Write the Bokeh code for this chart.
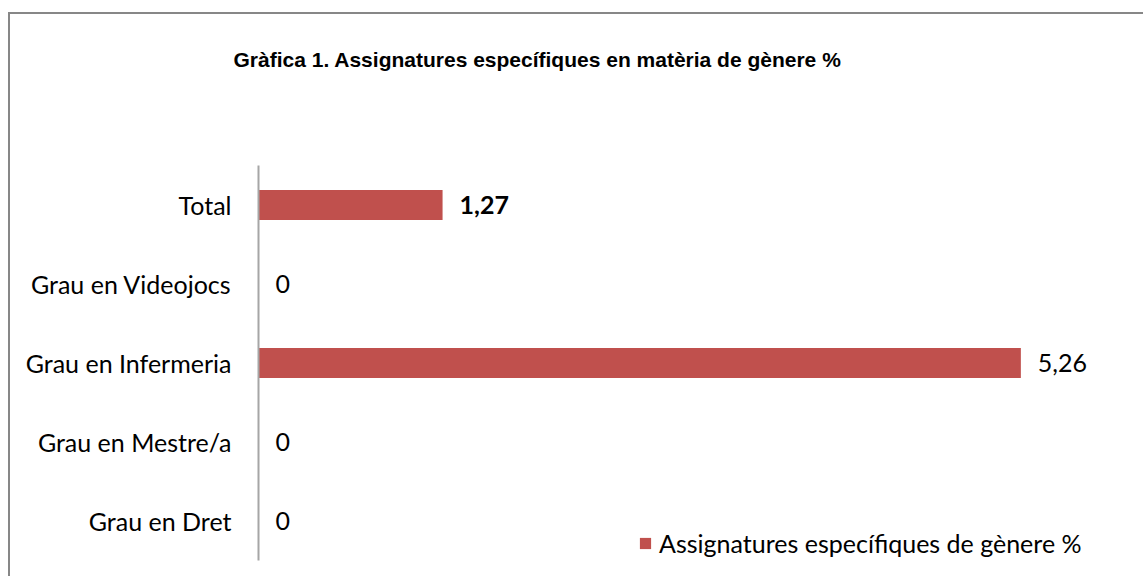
from bokeh.plotting import figure
from bokeh.models import ColumnDataSource, Range1d, FactorRange, Legend, LegendItem, Title
from bokeh.core.properties import value
from bokeh.embed import file_html
from bokeh.resources import INLINE

categories = ["Grau en Dret", "Grau en Mestre/a", "Grau en Infermeria", "Grau en Videojocs", "Total"]
values = [0, 0, 5.26, 0, 1.27]
value_labels = ["0", "0", "5,26", "0", "1,27"]
label_styles = ["normal", "normal", "normal", "normal", "bold"]
series_name = "Assignatures específiques de gènere %"
title_text = "Gràfica 1.  Assignatures específiques en matèria de gènere %"

BAR = "#C0504D"
LABEL_FONT = "Lato"
FS = "25px"

src = ColumnDataSource(dict(cat=categories, val=values, lab=value_labels, sty=label_styles))

p = figure(width=1135, height=564, output_backend="svg", toolbar_location=None,
           y_range=FactorRange(*categories, range_padding=0), x_range=Range1d(0, 6.12),
           x_axis_location=None, min_border_left=248, min_border_right=0,
           min_border_top=151, min_border_bottom=18)
p.styles = {"border-top": "2px solid #878787", "border-left": "2px solid #878787",
            "margin-top": "12px", "margin-left": "8px"}
p.outline_line_color = None
p.xgrid.visible = False
p.ygrid.visible = False

try:
    p.title = None
except Exception:
    p.title.text = ""
    p.title.visible = False

spacer = Title(text=" ", text_font_size="1px", standoff=87)
main_title = Title(text=title_text, text_font="Liberation Sans", text_font_style="bold",
                   text_font_size="21px", text_color="black", align="left", offset=-25,
                   standoff=10)
p.add_layout(spacer, "above")
p.add_layout(main_title, "above")

r = p.hbar(y="cat", right="val", left=0, height=0.38, source=src, fill_color=BAR, line_color=None)
p.text(x="val", y="cat", text="lab", source=src, x_offset=17, text_baseline="middle",
       text_align="left", text_font=value(LABEL_FONT), text_font_size=FS,
       text_font_style="sty", text_color="black")

ax = p.yaxis[0]
ax.axis_line_color = "#A6A6A6"
ax.axis_line_width = 2
ax.major_tick_line_color = None
ax.minor_tick_line_color = None
ax.major_label_text_font = LABEL_FONT
ax.major_label_text_font_size = FS
ax.major_label_text_color = "black"
ax.major_label_standoff = 21

legend = Legend(items=[LegendItem(label=series_name, renderers=[r])],
                location=(380, 2), orientation="horizontal",
                label_text_font=LABEL_FONT, label_text_font_size=FS, label_text_color="black",
                glyph_width=14, glyph_height=14, border_line_color=None,
                background_fill_alpha=0, label_standoff=7, padding=0, margin=0)
p.add_layout(legend, "center")

open("out.html", "w").write(file_html(p, INLINE))
